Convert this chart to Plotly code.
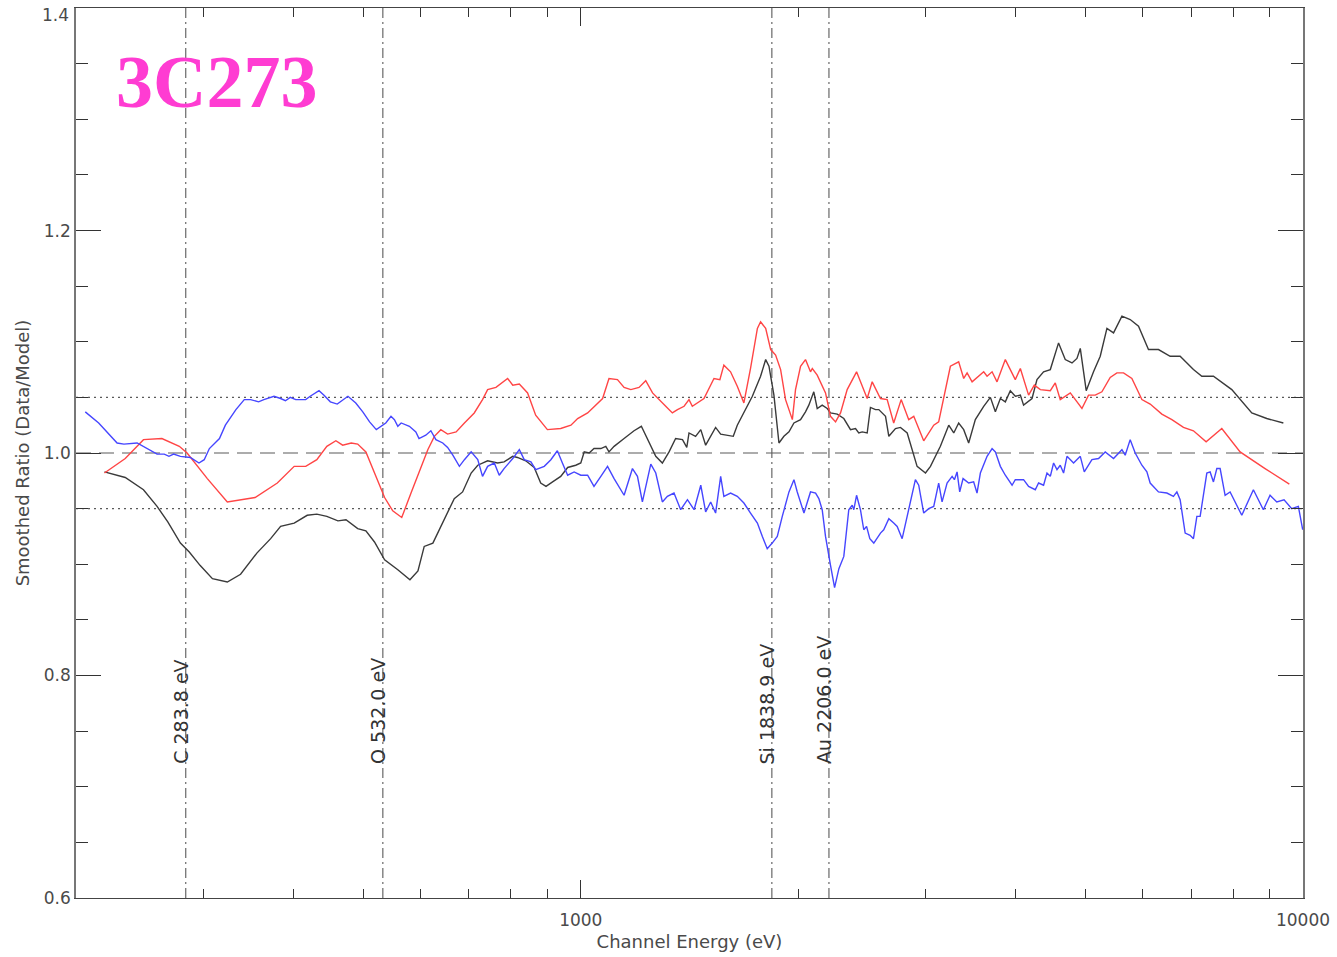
import numpy as np
import plotly.graph_objects as go

# ---- smoothed data/model ratio, three spectra (energy in eV) ----
blue_energy = [206,215,228,233,243,251,259,265,269,273,
               279,288,296,301,306,316,322,333,342,349,
               358,364,376,384,390,396,403,416,422,434,
               441,450,460,476,488,499,510,521,529,537,
               546,552,558,564,579,591,597,610,620,630,
               644,654,665,679,690,705,720,731,743,759,
               771,783,805,822,835,853,866,890,909,928,
               943,959,979,1000,1022,1043,1066,1089,1112,1148,
               1179,1198,1217,1250,1270,1297,1318,1346,1375,1405,
               1435,1466,1489,1513,1537,1562,1578,1612,1647,1682,
               1718,1756,1784,1812,1841,1871,1901,1942,1973,1994,
               2037,2080,2114,2136,2159,2182,2217,2246,2277,2313,
               2350,2376,2388,2409,2439,2465,2487,2513,2545,2600,
               2627,2670,2712,2742,2786,2831,2906,2937,2984,3032,
               3081,3130,3164,3215,3267,3291,3319,3347,3383,3444,
               3499,3537,3575,3652,3711,3750,3810,3871,3955,3996,
               4103,4169,4259,4304,4373,4421,4468,4515,4564,4612,
               4661,4712,4812,4916,4979,5102,5211,5323,5466,5614,
               5673,5764,5857,5983,6079,6143,6308,6479,6616,6689,
               6759,6868,6978,7052,7129,7204,7359,7437,7516,7598,
               7678,7801,7926,8227,8537,8813,9003,9198,9414,9647,
               9853,9990]
blue_ratio = [1.037,1.027,1.009,1.008,1.009,1.004,0.999,0.999,0.997,0.999,
              0.997,0.996,0.991,0.994,1.004,1.013,1.025,1.039,1.048,1.048,
              1.046,1.048,1.051,1.049,1.047,1.050,1.048,1.048,1.051,1.056,
              1.052,1.046,1.044,1.051,1.045,1.037,1.028,1.021,1.024,1.027,
              1.033,1.030,1.024,1.027,1.024,1.019,1.013,1.016,1.020,1.012,
              1.009,1.005,0.998,0.988,0.994,1.001,0.994,0.979,0.988,0.991,
              0.980,0.986,0.995,1.003,0.994,0.992,0.985,0.988,0.994,1.002,
              0.991,0.980,0.983,0.980,0.980,0.970,0.979,0.988,0.977,0.962,
              0.986,0.979,0.956,0.990,0.982,0.956,0.961,0.964,0.949,0.958,
              0.949,0.971,0.947,0.956,0.946,0.979,0.961,0.964,0.961,0.955,
              0.946,0.937,0.925,0.914,0.919,0.925,0.943,0.965,0.976,0.965,
              0.946,0.965,0.964,0.959,0.949,0.925,0.899,0.879,0.896,0.907,
              0.949,0.953,0.949,0.962,0.949,0.931,0.934,0.923,0.919,0.928,
              0.931,0.941,0.937,0.934,0.923,0.943,0.976,0.971,0.946,0.950,
              0.952,0.973,0.956,0.973,0.979,0.976,0.983,0.965,0.977,0.973,
              0.974,0.964,0.982,0.997,1.004,1.001,0.988,0.980,0.971,0.976,
              0.976,0.970,0.967,0.973,0.971,0.982,0.979,0.991,0.985,0.989,
              0.982,0.997,0.991,0.997,0.983,0.994,0.995,1.001,0.995,1.003,
              0.998,1.012,1.000,0.989,0.983,0.973,0.965,0.964,0.961,0.965,
              0.958,0.928,0.926,0.923,0.943,0.943,0.982,0.983,0.974,0.986,
              0.986,0.962,0.965,0.944,0.967,0.949,0.962,0.956,0.958,0.950,
              0.952,0.931]

red_energy = [219,234,248,263,278,285,304,324,354,380,
              401,416,431,445,458,468,481,491,504,518,
              535,549,565,582,597,614,627,640,654,672,
              690,712,731,743,763,792,805,822,844,866,
              899,938,969,990,1022,1049,1072,1094,1124,1148,
              1173,1204,1230,1257,1290,1311,1339,1361,1390,1412,
              1427,1481,1529,1558,1578,1612,1647,1682,1718,1756,
              1774,1803,1832,1861,1891,1921,1963,1983,2015,2047,
              2080,2092,2125,2148,2182,2217,2253,2289,2338,2409,
              2453,2492,2532,2600,2656,2712,2777,2845,2891,2984,
              3081,3130,3249,3336,3390,3427,3482,3613,3652,3711,
              3770,3871,3996,4061,4169,4246,4328,4468,4539,4612,
              4762,4942,5047,5156,5267,5408,5525,5643,5795,5983,
              6143,6376,6583,6831,7052,7343,7719,8183,8861,9574]
red_ratio = [0.982,0.995,1.012,1.013,1.006,1.000,0.977,0.956,0.960,0.973,
             0.988,0.988,0.994,1.006,1.011,1.007,1.009,1.008,1.001,0.982,
             0.960,0.948,0.942,0.964,0.982,1.003,1.015,1.021,1.017,1.019,
             1.027,1.036,1.048,1.057,1.059,1.067,1.061,1.062,1.054,1.034,
             1.021,1.022,1.025,1.031,1.036,1.043,1.049,1.067,1.066,1.059,
             1.057,1.059,1.065,1.054,1.046,1.042,1.036,1.039,1.042,1.048,
             1.042,1.049,1.067,1.066,1.079,1.073,1.060,1.045,1.076,1.112,
             1.118,1.112,1.093,1.088,1.075,1.048,1.030,1.057,1.078,1.084,
             1.073,1.076,1.070,1.064,1.054,1.033,1.028,1.036,1.057,1.073,
             1.060,1.049,1.064,1.049,1.048,1.027,1.048,1.030,1.033,1.011,
             1.025,1.028,1.078,1.082,1.067,1.072,1.064,1.073,1.069,1.073,
             1.064,1.084,1.066,1.076,1.052,1.061,1.057,1.056,1.063,1.048,
             1.054,1.040,1.052,1.052,1.055,1.068,1.072,1.072,1.067,1.048,
             1.044,1.035,1.030,1.023,1.020,1.010,1.022,1.001,0.986,0.972]

black_energy = [219,234,248,259,268,279,287,297,309,324,
                338,356,372,384,401,418,431,445,461,473,
                491,504,518,535,558,580,595,607,624,640,
                668,686,705,720,743,767,783,805,817,839,
                862,880,895,914,938,959,984,1000,1011,1027,
                1043,1066,1083,1094,1112,1148,1185,1213,1243,1270,
                1297,1325,1353,1383,1402,1412,1442,1466,1489,1537,
                1562,1604,1626,1647,1682,1728,1774,1803,1822,1851,
                1881,1911,1942,1973,2015,2047,2069,2102,2125,2159,
                2194,2217,2265,2313,2363,2401,2426,2453,2492,2518,
                2559,2586,2642,2670,2727,2771,2831,2876,2922,3001,
                3049,3147,3232,3284,3336,3390,3444,3518,3613,3691,
                3750,3810,3871,3933,3996,4061,4103,4215,4282,4373,
                4468,4587,4686,4788,4864,4916,5010,5128,5239,5352,
                5466,5614,5764,5919,6110,6308,6547,6759,7052,7243,
                7516,7969,8493,8909,9393]
black_ratio = [0.983,0.978,0.967,0.952,0.938,0.919,0.911,0.899,0.887,0.884,
               0.891,0.910,0.923,0.934,0.937,0.944,0.945,0.943,0.939,0.940,
               0.932,0.930,0.920,0.904,0.895,0.886,0.894,0.916,0.919,0.934,
               0.959,0.965,0.982,0.989,0.993,0.991,0.992,0.997,0.996,0.993,
               0.987,0.973,0.970,0.974,0.979,0.987,0.989,0.991,1.001,1.000,
               1.004,1.004,1.006,1.001,1.006,1.013,1.020,1.024,1.009,0.997,
               0.991,1.001,1.013,1.012,1.005,1.018,1.015,1.021,1.007,1.023,
               1.017,1.016,1.015,1.025,1.036,1.051,1.069,1.084,1.078,1.052,
               1.009,1.015,1.019,1.027,1.030,1.037,1.043,1.055,1.040,1.043,
               1.040,1.036,1.035,1.031,1.021,1.022,1.018,1.019,1.018,1.041,
               1.039,1.039,1.033,1.015,1.022,1.023,1.018,1.003,0.988,0.982,
               0.988,1.006,1.025,1.018,1.027,1.021,1.009,1.030,1.042,1.050,
               1.037,1.049,1.046,1.056,1.051,1.052,1.043,1.049,1.066,1.073,
               1.075,1.099,1.084,1.081,1.085,1.094,1.056,1.073,1.087,1.112,
               1.108,1.123,1.120,1.114,1.093,1.093,1.087,1.087,1.075,1.069,
               1.069,1.057,1.036,1.031,1.027]

# instrumental edges marked on the plot
edge_names = ["C", "O", "Si", "Au"]
edge_energy = [283.8, 532.0, 1838.9, 2206.0]

# reference levels
unity = 1.0
band = [0.95, 1.05]

x_min, x_max = 200, 10000
y_min, y_max = 0.6, 1.4
x_major = [1000, 10000]
x_minor = [300, 400, 500, 600, 700, 800, 900,
           2000, 3000, 4000, 5000, 6000, 7000, 8000, 9000]
y_major = [0.6, 0.8, 1.0, 1.2, 1.4]

for e, r in [(blue_energy, blue_ratio), (red_energy, red_ratio), (black_energy, black_ratio)]:
    assert len(e) == len(r)

REF = "#5a5a5a"
TXT = "#4a4a4a"
FONT = "DejaVu Sans"
TICKFONT = dict(family=FONT, size=17, color=TXT)

fig = go.Figure()

# horizontal reference lines
fig.add_trace(go.Scatter(x=[x_min, x_max], y=[unity, unity], mode="lines",
                         line=dict(color=REF, width=1.2, dash="15px,8px"),
                         hoverinfo="skip", showlegend=False))
for b in band:
    fig.add_trace(go.Scatter(x=[x_min, x_max], y=[b, b], mode="lines",
                             line=dict(color=REF, width=1.2, dash="2px,4px"),
                             hoverinfo="skip", showlegend=False))

# vertical edge markers
for e in edge_energy:
    fig.add_trace(go.Scatter(x=[e, e], y=[y_min, y_max], mode="lines",
                             line=dict(color=REF, width=1.1, dash="10px,4px,2px,4px"),
                             hoverinfo="skip", showlegend=False))

# ratio curves
series = [(black_energy, black_ratio, "#3a3a3a"),
          (red_energy, red_ratio, "#ff4545"),
          (blue_energy, blue_ratio, "#4646ff")]
for e, r, c in series:
    fig.add_trace(go.Scatter(x=e, y=r, mode="lines",
                             line=dict(color=c, width=1.4),
                             hoverinfo="skip", showlegend=False))

# minor x ticks carried by an overlaid axis
fig.add_trace(go.Scatter(x=[x_min], y=[unity], xaxis="x2", mode="markers",
                         marker=dict(opacity=0), hoverinfo="skip", showlegend=False))

annotations = []
for name, e in zip(edge_names, edge_energy):
    annotations.append(dict(
        x=np.log10(e), y=0.7185, xref="x", yref="y",
        text=f"{name} {e:.1f} eV", textangle=-90, showarrow=False,
        xanchor="center", yanchor="bottom", xshift=-5,
        font=dict(family=FONT, size=19, color="#333333")))

# top y label, nudged down so it stays inside the page
y_labels = [f"{v:.1f}" for v in y_major]
annotations.append(dict(
    x=0, y=y_max, xref="paper", yref="y", text=y_labels[-1], showarrow=False,
    xanchor="right", yanchor="middle", xshift=-5, yshift=-7, font=TICKFONT))

annotations.append(dict(
    x=0.031, y=0.917, xref="paper", yref="paper",
    text="<b>3C273</b>", showarrow=False, xanchor="left", yanchor="middle",
    font=dict(family="Liberation Serif", size=74, color="#ff3cd2")))

fig.update_layout(
    width=1337, height=957,
    margin=dict(l=76, r=34, t=8, b=59, autoexpand=False),
    paper_bgcolor="white", plot_bgcolor="white",
    showlegend=False,
    annotations=annotations,
    xaxis=dict(
        type="log", range=[np.log10(x_min), np.log10(x_max)],
        tickmode="array", tickvals=x_major, ticktext=["1000", "10000"],
        ticks="inside", ticklen=18, tickwidth=1, tickcolor="#333",
        ticklabelstandoff=6, ticklabeloverflow="allow", automargin=False,
        showline=True, linecolor="#444", linewidth=1.2, mirror="ticks",
        showgrid=False, zeroline=False,
        tickfont=TICKFONT,
        title=dict(text="Channel Energy (eV)", standoff=6,
                   font=dict(family=FONT, size=18, color=TXT)),
    ),
    xaxis2=dict(
        type="log", range=[np.log10(x_min), np.log10(x_max)],
        overlaying="x", matches="x", anchor="y",
        tickmode="array", tickvals=x_minor, showticklabels=False,
        ticks="inside", ticklen=9, tickwidth=1, tickcolor="#333",
        showline=False, mirror="ticks", showgrid=False, zeroline=False,
        automargin=False,
    ),
    yaxis=dict(
        range=[y_min - 1e-4, y_max + 1e-4],
        tickmode="array", tickvals=y_major, ticktext=y_labels[:-1] + [""],
        ticks="inside", ticklen=25, tickwidth=1, tickcolor="#333",
        ticklabeloverflow="allow", automargin=False,
        minor=dict(dtick=0.05, tick0=0.6, ticks="inside", ticklen=12,
                   tickcolor="#333", tickwidth=1, showgrid=False),
        showline=True, linecolor="#777", linewidth=1.5, mirror="ticks",
        showgrid=False, zeroline=False,
        tickfont=TICKFONT,
        title=dict(text="Smoothed Ratio (Data/Model)", standoff=10,
                   font=dict(family=FONT, size=18, color=TXT)),
    ),
)

fig.write_html("out.html")
